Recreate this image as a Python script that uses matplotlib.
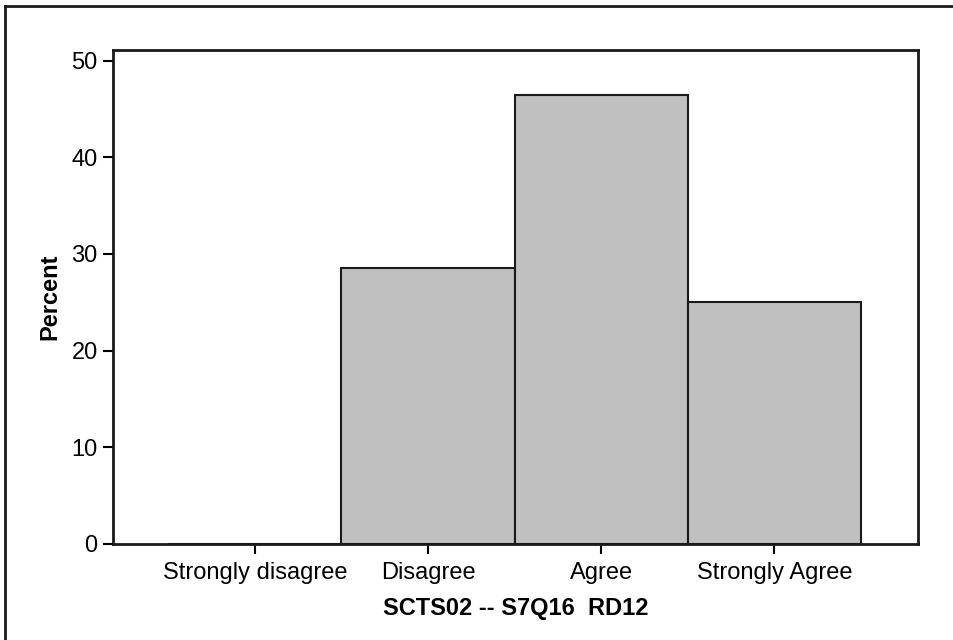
import numpy as np
import matplotlib
matplotlib.use('Agg')
import matplotlib.pyplot as plt
from matplotlib.lines import Line2D

plt.rcParams['font.family'] = ['Liberation Sans', 'DejaVu Sans']

# data
categories = ['Strongly disagree', 'Disagree', 'Agree', 'Strongly Agree']
percents = [0.0, 28.6, 46.4, 25.0]
yticks = [0, 10, 20, 30, 40, 50]

fig = plt.figure(figsize=(9.54, 6.4), dpi=100)
ax = fig.add_axes([0.1184, 0.15, 0.9623 - 0.1184, 0.9219 - 0.15])

x = np.arange(len(categories))
ax.bar(x, percents, width=1.0, color='#c0c0c0', edgecolor='#1a1a1a', linewidth=1.5)

ax.set_xlim(-0.82, 3.83)
ax.set_ylim(0, 51.1)
ax.set_xticks(x)
ax.set_xticklabels(categories)
ax.set_yticks(yticks)
ax.tick_params(axis='both', labelsize=17, length=7, width=1.5, direction='out')
ax.tick_params(axis='x', pad=6)
ax.tick_params(axis='y', pad=4)

for s in ax.spines.values():
    s.set_linewidth(2)
    s.set_color('#1a1a1a')

ax.set_xlabel('SCTS02 -- S7Q16  RD12', fontsize=17, fontweight='bold', labelpad=9)
ax.set_ylabel('Percent', fontsize=17, fontweight='bold', labelpad=7)

# frame around the figure (only left and top visible in the reference)
fig.add_artist(Line2D([5.5 / 954, 5.5 / 954], [0, 1 - 5.5 / 640], transform=fig.transFigure, color='#1a1a1a', lw=2))
fig.add_artist(Line2D([5.5 / 954, 1], [1 - 5.5 / 640, 1 - 5.5 / 640], transform=fig.transFigure, color='#1a1a1a', lw=2))

fig.savefig('out.png', dpi=100)
